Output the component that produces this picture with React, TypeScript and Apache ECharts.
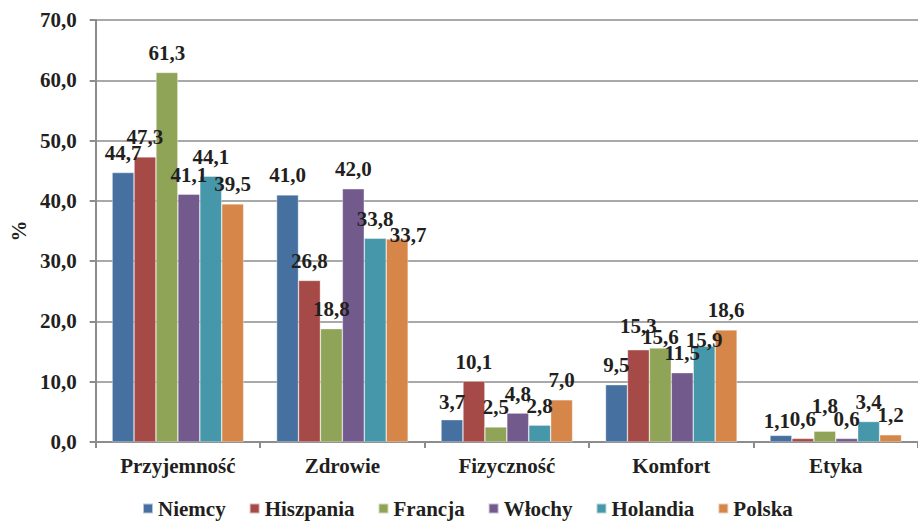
import React, { useEffect, useRef } from "react";
import * as echarts from "echarts";

const categories = ["Przyjemność", "Zdrowie", "Fizyczność", "Komfort", "Etyka"];
const seriesNames = ["Niemcy", "Hiszpania", "Francja", "Włochy", "Holandia", "Polska"];
const niemcy = [44.7, 41.0, 3.7, 9.5, 1.1];
const hiszpania = [47.3, 26.8, 10.1, 15.3, 0.6];
const francja = [61.3, 18.8, 2.5, 15.6, 1.8];
const wlochy = [41.1, 42.0, 4.8, 11.5, 0.6];
const holandia = [44.1, 33.8, 2.8, 15.9, 3.4];
const polska = [39.5, 33.7, 7.0, 18.6, 1.2];
const colors = ["#46709f", "#a64a48", "#8fa457", "#725a8c", "#4797ab", "#d7864a"];

// Hand-nudged value labels, keyed "series:category" -> [dx, dy] in px
const labelNudges: Record<string, [number, number]> = {
  "5:1": [11, 16],
  "1:3": [0, -4],
  "2:3": [0, 9],
  "4:3": [0, 13],
  "0:4": [-4, 5],
  "2:4": [0, -6],
  "0:2": [0, 2],
};

const FONT = "Liberation Serif";
const TEXT = "#231f20";
const AXIS = "#8c8c8c";
const SIZE = 21;

const fmt = (v: number) => v.toFixed(1).replace(".", ",");

export default function App() {
  const ref = useRef<HTMLDivElement>(null);
  useEffect(() => {
    if (!ref.current) return;
    const chart = echarts.init(ref.current, undefined, { renderer: "svg" });
    const values = [niemcy, hiszpania, francja, wlochy, holandia, polska];
    chart.setOption({
      animation: false,
      backgroundColor: "#ffffff",
      textStyle: { fontFamily: FONT },
      grid: { left: 91, right: -5, top: 20, bottom: 79, containLabel: false },
      legend: {
        data: seriesNames,
        top: 498,
        left: 142,
        padding: 0,
        itemWidth: 10,
        itemHeight: 10,
        itemGap: 23,
        icon: "rect",
        textStyle: { fontFamily: FONT, fontWeight: "bold", fontSize: SIZE, color: TEXT },
      },
      xAxis: {
        type: "category",
        data: categories,
        axisLine: { lineStyle: { color: AXIS, width: 2 } },
        axisTick: { show: true, length: 6, lineStyle: { color: AXIS, width: 2 } },
        axisLabel: { fontFamily: FONT, fontWeight: "bold", fontSize: SIZE, color: TEXT, margin: 13 },
      },
      yAxis: {
        type: "value",
        min: 0,
        max: 70,
        interval: 10,
        name: "%",
        nameLocation: "middle",
        nameGap: 66,
        nameRotate: 90,
        nameTextStyle: { fontFamily: FONT, fontWeight: "bold", fontSize: SIZE, color: TEXT },
        axisLine: { show: true, lineStyle: { color: AXIS, width: 2 } },
        axisTick: { show: true, length: 6, lineStyle: { color: AXIS, width: 2 } },
        splitLine: { lineStyle: { color: AXIS, width: 1.5 } },
        axisLabel: {
          fontFamily: FONT,
          fontWeight: "bold",
          fontSize: SIZE,
          color: TEXT,
          margin: 19,
          formatter: (v: number) => fmt(v),
        },
      },
      series: seriesNames.map((name, i) => ({
        name,
        type: "bar",
        data: values[i].map((v, j) => {
          const nudge = labelNudges[`${i}:${j}`];
          return nudge ? { value: v, label: { offset: nudge } } : v;
        }),
        barGap: "0%",
        barCategoryGap: "20%",
        itemStyle: { color: colors[i], borderColor: "rgba(255,255,255,0.6)", borderWidth: 0.6 },
        label: {
          show: true,
          position: "top",
          distance: 9,
          fontFamily: FONT,
          fontWeight: "bold",
          fontSize: SIZE,
          color: TEXT,
          formatter: (p: any) => fmt(p.value),
        },
      })),
    });
    return () => chart.dispose();
  }, []);
  return <div ref={ref} style={{ position: "fixed", left: 0, top: 0, width: 918, height: 521 }} />;
}
